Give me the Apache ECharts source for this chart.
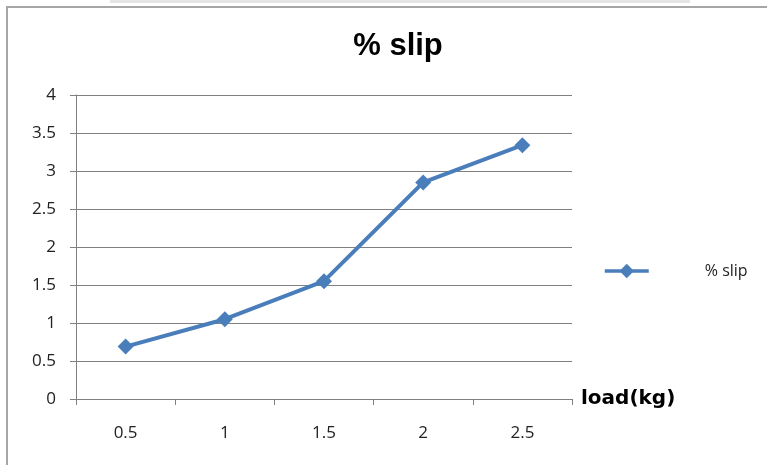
<!DOCTYPE html>
<html>
<head>
<meta charset="utf-8">
<script src="https://cdn.jsdelivr.net/npm/echarts@6/dist/echarts.min.js"></script>
<style>
  html, body { margin: 0; padding: 0; background: #fff; }
  #chart { width: 767px; height: 465px; }
</style>
</head>
<body>
<div id="chart"></div>
<script>
// load in kg along the x axis
var loads = ['0.5', '1', '1.5', '2', '2.5'];
// measured % slip at each load
var slip = [0.69, 1.05, 1.55, 2.85, 3.34];
// y axis range and step
var yMin = 0, yMax = 4, yStep = 0.5;

var chart = echarts.init(document.getElementById('chart'), null, { renderer: 'canvas' });
var tickFont = '"Open Sans", "Liberation Sans", sans-serif';

chart.setOption({
  animation: false,
  backgroundColor: '#fff',
  title: {
    text: '% slip',
    left: 393,
    textAlign: 'center',
    top: 26,
    textStyle: { fontFamily: 'Liberation Sans, Arial, sans-serif', fontWeight: 'bold', fontSize: 31, color: '#000' }
  },
  legend: {
    left: 598,
    top: 258,
    itemWidth: 44,
    itemHeight: 18,
    data: ['% slip'],
    lineStyle: { width: 3.5 },
    textStyle: { fontFamily: tickFont, fontSize: 16, color: '#222', padding: [0, 0, 0, 51] }
  },
  grid: { left: 76, right: 195, top: 95, bottom: 66, containLabel: false },
  xAxis: {
    type: 'category',
    data: loads,
    boundaryGap: true,
    name: 'load(kg)',
    nameLocation: 'end',
    nameGap: 9,
    nameTextStyle: { fontFamily: '"DejaVu Sans", sans-serif', fontWeight: 'bold', fontSize: 20, color: '#000', verticalAlign: 'middle', padding: [-6, 0, 0, 0] },
    axisLine: { lineStyle: { color: '#808080', width: 1 } },
    axisTick: { show: true, length: 6, lineStyle: { color: '#808080' } },
    axisLabel: { margin: 26, fontFamily: tickFont, fontSize: 17, color: '#222' },
    splitLine: { show: false }
  },
  yAxis: {
    type: 'value',
    min: yMin,
    max: yMax,
    interval: yStep,
    axisLine: { show: true, lineStyle: { color: '#808080', width: 1 } },
    axisTick: { show: true, length: 6, lineStyle: { color: '#808080' } },
    axisLabel: { margin: 20, fontFamily: tickFont, fontSize: 17, color: '#222' },
    splitLine: { show: true, lineStyle: { color: '#808080', width: 1 } }
  },
  series: [{
    name: '% slip',
    type: 'line',
    data: slip,
    symbol: 'diamond',
    symbolSize: 16,
    lineStyle: { color: '#4A7EBB', width: 4 },
    itemStyle: { color: '#4A7EBB' }
  }],
  graphic: [
    // faint shadow band along the top edge
    { type: 'rect', shape: { x: 110, y: 0, width: 580, height: 3 }, style: { fill: '#e4e4e4' }, silent: true },
    // outer frame of the chart area
    { type: 'polyline', shape: { points: [[7, 470], [7, 7], [770, 7]] }, style: { stroke: '#a6a6a6', lineWidth: 2, fill: null }, silent: true }
  ]
});
</script>
</body>
</html>
